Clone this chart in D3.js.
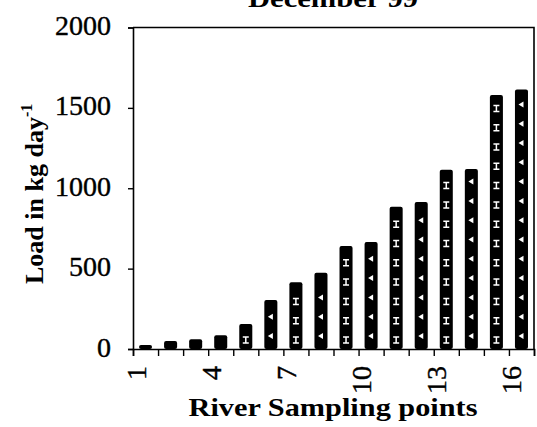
<!DOCTYPE html>
<html>
<head>
<meta charset="utf-8">
<script src="https://cdn.jsdelivr.net/npm/d3@7"></script>
<style>
  html, body { margin: 0; padding: 0; background: #fff; }
  svg { display: block; }
  text { font-family: "Liberation Serif", "Times New Roman", serif; fill: #000; }
</style>
</head>
<body>
<svg id="chart" width="537" height="427"></svg>
<script>
// River sampling points and the December 99 load at each (kg/day)
const points = [1, 2, 3, 4, 5, 6, 7, 8, 9, 10, 11, 12, 13, 14, 15, 16];
const loads = [25, 50, 60, 85, 155, 305, 415, 475, 640, 665, 885, 915, 1115, 1120, 1580, 1615];
const yTicks = [0, 500, 1000, 1500, 2000];
const xLabels = [1, 4, 7, 10, 13, 16];

const svg = d3.select("#chart");
const plot = { left: 133, right: 534, top: 27.5, bottom: 349 };

const x = d3.scaleBand()
  .domain(points)
  .range([plot.left, plot.right])
  .paddingInner(0.48)
  .paddingOuter(0.24);

// boundaries between sampling points carry the x ticks
const xEdge = d3.scaleLinear().domain([0, points.length]).range([plot.left, plot.right]);

const y = d3.scaleLinear().domain([0, 2000]).range([plot.bottom, plot.top]);

// bars
const bars = svg.append("g");
points.forEach((p, i) => {
  const v = loads[i];
  const bx = x(p), bw = x.bandwidth();
  bars.append("rect")
    .attr("x", bx).attr("y", y(v))
    .attr("width", bw).attr("height", y(0) - y(v))
    .attr("rx", 2).attr("fill", "#000");

  // small white glyphs running up each bar
  const cx = bx + bw / 2;
  const step = 19.3;
  for (let py = y(0) - 9 - (i % 2) * 4; py > y(v) + 7; py -= step) {
    if (i % 2 === 0) {
      bars.append("path")
        .attr("d", `M${cx - 3},${py - 3}h6M${cx},${py - 3}v6M${cx - 3},${py + 3}h6`)
        .attr("stroke", "#fff").attr("stroke-width", 1.5).attr("fill", "none");
    } else {
      bars.append("path")
        .attr("d", `M${cx - 3},${py}L${cx + 2},${py - 3}L${cx + 2},${py + 3}Z`)
        .attr("fill", "#fff");
    }
  }
});

// frame: top and right edges
svg.append("path")
  .attr("d", `M${plot.left},${plot.top}H${plot.right}V${plot.bottom}`)
  .attr("fill", "none").attr("stroke", "#000").attr("stroke-width", 1.6);

// y axis
const yAxis = svg.append("g")
  .attr("transform", `translate(${plot.left},0)`)
  .call(d3.axisLeft(y).tickValues(yTicks).tickSize(5).tickPadding(17).tickFormat(d3.format("d")));
yAxis.select(".domain").attr("stroke-width", 1.6);
yAxis.selectAll(".tick line").attr("stroke-width", 1.4);
yAxis.selectAll(".tick text")
  .attr("font-family", "Liberation Serif, Times New Roman, serif")
  .attr("font-size", 28).attr("dy", "0.25em")
  .attr("stroke", "#000").attr("stroke-width", 0.4);

// x axis with ticks at point boundaries
const xAxis = svg.append("g")
  .attr("transform", `translate(0,${plot.bottom})`)
  .call(d3.axisBottom(xEdge).tickValues(d3.range(0, points.length + 1)).tickSize(7).tickFormat(""));
xAxis.select(".domain").attr("stroke-width", 1.6);
xAxis.selectAll(".tick line").attr("stroke-width", 1.4);

// rotated point labels
svg.append("g").selectAll("text")
  .data(xLabels)
  .join("text")
  .attr("transform", d => `translate(${x(d) + x.bandwidth() / 2},366) rotate(-90)`)
  .attr("text-anchor", "end")
  .attr("font-size", 28)
  .attr("stroke", "#000").attr("stroke-width", 0.4)
  .text(d => d);

// title
svg.append("text")
  .attr("x", 333).attr("y", 7)
  .attr("text-anchor", "middle")
  .attr("font-size", 26).attr("font-weight", "bold")
  .attr("textLength", 170).attr("lengthAdjust", "spacingAndGlyphs")
  .text("December 99");

// x axis title
svg.append("text")
  .attr("x", 333).attr("y", 416)
  .attr("text-anchor", "middle")
  .attr("font-size", 26).attr("font-weight", "bold")
  .attr("textLength", 289).attr("lengthAdjust", "spacingAndGlyphs")
  .text("River Sampling points");

// y axis title with superscript
const yTitle = svg.append("text")
  .attr("transform", "translate(43,284) rotate(-90)")
  .attr("text-anchor", "start")
  .attr("font-size", 26).attr("font-weight", "bold");
yTitle.append("tspan").text("Load in kg day");
yTitle.append("tspan").attr("font-size", 16).attr("dy", -11).text("-1");
</script>
</body>
</html>
